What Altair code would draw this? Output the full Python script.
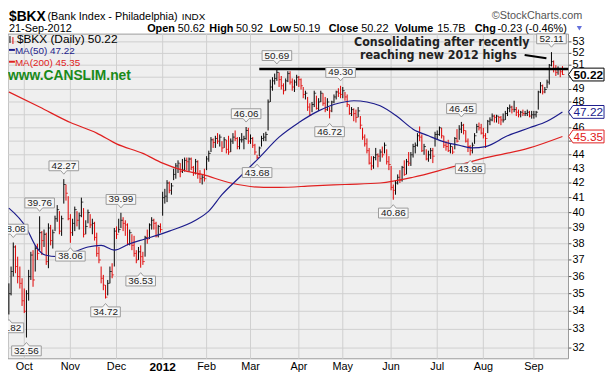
import altair as alt
import pandas as pd

FONT = "Liberation Sans, Arial, sans-serif"
NARROW = "DejaVu Sans Condensed, Liberation Sans Narrow, sans-serif"

# ---------------- data ----------------
month_idx = [7, 28, 49, 70, 90, 110, 132, 152, 174, 195, 216, 239]
month_labels = ["Oct", "Nov", "Dec", "2012", "Feb", "Mar", "Apr", "May", "Jun", "Jul", "Aug", "Sep"]
price_ticks = list(range(32, 54))
hidden_tick_labels = [45, 47, 50]  # covered by the price tags in the reference

highs = [
    35.6, 36.6, 38.08, 37.9, 37.2, 36.6, 35.9,
    35.3, 35.2, 36.4, 37.5, 37.6, 37.9, 38.0, 39.76, 38.8, 38.9, 38.7, 39.3, 39.2, 38.9, 39.8, 40.5, 40.1, 39.8, 42.27, 41.9, 41.1,
    39.9, 39.6, 40.4, 40.1, 40.0, 41.0, 40.3, 39.5, 40.2, 39.9, 39.6, 39.4, 38.7, 37.8, 36.6, 36.1, 35.5, 35.8, 36.6, 36.8, 39.0,
    39.1, 39.6, 39.99, 39.7, 39.5, 39.3, 38.9, 38.6, 38.5, 37.6, 37.8, 37.9, 37.5, 38.5, 38.9, 39.3, 39.7, 39.6, 39.4, 39.2, 39.3,
    41.4, 41.6, 42.2, 42.1, 42.0, 43.0, 43.4, 43.6, 43.4, 43.7, 43.8, 43.8, 43.8, 43.8, 43.2, 43.7, 43.6, 42.9, 42.6, 43.0,
    43.9, 44.3, 45.3, 45.2, 45.4, 45.6, 45.5, 45.0, 45.3, 45.1, 45.4, 45.2, 45.6, 45.8, 45.3, 45.3, 45.6, 45.4, 46.06, 46.0,
    45.5, 45.3, 44.8, 44.0, 44.6, 45.4, 45.6, 45.7, 48.2, 49.8, 50.0, 50.3, 50.69, 50.4, 50.1, 49.5, 49.9, 50.5, 50.5, 49.9, 49.8, 50.2,
    50.1, 49.9, 49.2, 48.9, 48.4, 47.9, 48.0, 48.9, 48.5, 48.3, 48.9, 48.7, 48.4, 48.3, 47.6, 48.1, 48.6, 48.9, 49.1, 49.30,
    49.2, 48.8, 48.6, 47.8, 47.6, 47.5, 47.4, 47.6, 46.9, 46.0, 45.5, 45.2, 44.5, 43.9, 43.9, 44.5, 44.1, 44.4, 44.6, 44.9, 44.4, 43.9,
    43.2, 41.9, 42.2, 42.6, 42.9, 43.2, 43.6, 43.7, 44.2, 44.2, 44.8, 44.9, 45.6, 46.1, 45.5, 44.8, 44.4, 44.3, 44.5, 44.5, 45.7,
    45.8, 46.1, 46.0, 45.4, 45.0, 45.1, 44.8, 44.6, 45.3, 45.9, 46.2, 46.45, 46.3, 45.8, 45.2, 44.7, 44.9, 45.6, 46.3, 46.4, 46.3,
    46.0, 45.6, 46.6, 46.8, 47.1, 47.0, 47.0, 46.9, 46.9, 47.1, 47.3, 47.6, 47.8, 47.7, 48.1, 47.6, 47.4, 47.3, 47.4, 47.3, 47.4, 47.3, 47.3,
    47.3, 47.3, 48.9, 49.6, 49.4, 49.2, 49.8, 51.1, 52.11, 51.4, 51.0, 50.9, 50.7, 50.92,
]
lows = [
    33.82, 34.9, 36.0, 36.2, 35.6, 35.3, 34.3,
    33.9, 32.56, 34.6, 35.8, 35.4, 36.3, 37.0, 37.6, 37.3, 37.8, 36.7, 36.5, 37.9, 37.7, 38.8, 39.4, 38.6, 38.5, 40.6, 40.8, 39.5,
    38.06, 38.5, 38.8, 39.1, 38.9, 39.7, 38.4, 38.6, 39.3, 39.0, 38.6, 38.2, 37.2, 36.8, 35.6, 35.2, 34.72, 34.9, 35.6, 35.9, 36.6,
    38.3, 38.7, 39.0, 38.8, 38.5, 37.9, 37.9, 37.6, 37.2, 36.8, 37.0, 36.53, 36.7, 37.2, 38.0, 38.3, 38.9, 38.9, 38.4, 38.4, 38.7,
    39.8, 40.6, 40.7, 41.3, 41.2, 42.2, 42.3, 42.7, 42.4, 42.7, 42.8, 42.9, 42.8, 42.9, 42.5, 42.6, 42.3, 42.0, 41.9, 42.1,
    42.9, 43.5, 44.2, 44.5, 44.5, 44.8, 44.6, 44.2, 44.5, 44.1, 44.0, 44.2, 44.8, 45.0, 44.4, 44.4, 44.9, 44.4, 45.1, 44.8,
    44.8, 44.5, 44.0, 43.68, 43.9, 44.6, 45.0, 45.0, 45.8, 48.0, 48.9, 49.4, 49.7, 49.2, 49.0, 48.6, 48.9, 49.6, 49.4, 48.9, 48.8, 49.3,
    49.2, 49.0, 48.3, 48.2, 47.3, 46.9, 47.2, 47.6, 47.4, 47.3, 48.0, 47.7, 47.2, 47.3, 46.72, 47.2, 47.9, 48.2, 48.4, 48.3,
    48.3, 48.1, 47.6, 47.0, 46.9, 46.5, 46.4, 46.8, 45.9, 45.1, 44.6, 44.1, 43.3, 42.9, 43.0, 43.6, 43.1, 43.5, 43.8, 44.1, 43.3, 42.9,
    41.5, 40.86, 41.2, 41.9, 42.0, 42.1, 42.5, 42.6, 43.2, 43.2, 43.8, 44.1, 44.6, 45.0, 44.2, 44.0, 43.6, 43.5, 43.7, 43.4, 44.6,
    45.1, 45.4, 45.2, 44.5, 44.3, 44.2, 44.1, 44.05, 44.4, 44.9, 45.1, 45.6, 45.5, 44.9, 44.2, 43.96, 44.1, 44.8, 45.6, 45.8, 45.5,
    45.2, 44.5, 45.6, 46.2, 46.5, 46.4, 46.4, 46.3, 46.2, 46.4, 46.6, 46.9, 47.2, 47.1, 47.2, 46.9, 46.8, 46.8, 46.9, 46.9, 46.9, 46.8, 46.7,
    46.7, 46.8, 47.4, 48.7, 48.6, 48.7, 49.1, 49.4, 50.9, 50.4, 50.1, 50.2, 50.0, 50.19,
]
closes = [
    35.0, 36.3, 37.8, 36.6, 36.0, 35.6, 34.6,
    34.0, 35.0, 36.0, 37.3, 35.8, 37.7, 37.4, 38.7, 38.2, 38.6, 36.9, 39.0, 38.2, 38.7, 39.6, 40.2, 38.8, 39.6, 41.9, 41.3, 39.6,
    38.7, 39.3, 40.2, 39.5, 39.8, 40.7, 38.6, 39.1, 40.0, 39.2, 39.3, 38.4, 37.4, 37.0, 35.9, 35.5, 34.8, 35.6, 36.3, 36.1, 38.8,
    38.6, 38.9, 39.5, 39.3, 39.2, 38.0, 38.7, 37.9, 37.4, 37.0, 37.5, 37.2, 36.9, 38.4, 38.3, 39.2, 39.5, 39.3, 38.5, 39.1, 38.9,
    41.0, 41.1, 42.0, 41.5, 41.8, 42.6, 43.2, 43.4, 42.8, 42.9, 43.6, 43.5, 43.7, 43.1, 42.7, 43.5, 42.6, 42.3, 42.4, 42.3,
    43.7, 44.1, 45.1, 44.9, 45.2, 45.0, 45.3, 44.5, 45.1, 44.4, 44.2, 45.0, 45.3, 45.2, 44.6, 45.1, 45.1, 45.2, 45.8, 45.0,
    45.2, 44.7, 44.2, 43.8, 44.5, 45.2, 45.3, 45.5, 48.0, 49.2, 49.7, 49.9, 50.4, 49.8, 49.3, 48.9, 49.7, 50.3, 49.6, 49.2, 49.6, 50.0,
    49.8, 49.3, 48.6, 48.7, 47.6, 47.0, 47.8, 48.7, 47.5, 48.0, 48.7, 47.9, 47.4, 48.0, 47.3, 48.0, 48.4, 48.8, 48.7, 48.6,
    48.9, 48.4, 47.8, 47.1, 47.4, 47.1, 46.8, 47.3, 46.2, 45.3, 44.8, 44.3, 43.4, 43.2, 43.8, 44.0, 43.9, 44.2, 44.0, 44.7, 43.5, 43.3,
    41.7, 41.5, 42.0, 42.4, 42.2, 43.1, 42.6, 43.5, 43.4, 44.0, 44.6, 44.7, 45.4, 45.3, 44.3, 44.6, 43.7, 44.0, 44.3, 43.9, 45.5,
    45.5, 46.0, 45.4, 44.7, 44.6, 44.3, 44.6, 44.2, 45.2, 45.0, 45.9, 46.2, 45.8, 45.0, 44.6, 44.3, 44.7, 45.4, 46.1, 46.0, 45.6,
    45.4, 45.2, 46.5, 46.6, 46.9, 46.8, 46.9, 46.8, 46.6, 46.6, 47.1, 47.5, 47.6, 47.4, 47.4, 47.2, 47.0, 47.2, 47.1, 47.1, 47.2, 46.9, 47.0,
    47.0, 47.2, 48.8, 49.3, 48.8, 49.0, 49.6, 51.0, 51.3, 50.7, 50.4, 50.7, 50.45, 50.22,
]

ma50_idx = [0, 8, 12, 16.5, 22, 28, 36, 42, 48, 55, 62, 73, 85, 91, 97, 105, 114, 123, 132, 141,
            150, 157, 163, 169, 176.5, 184, 191, 199, 205, 211, 217, 227, 237, 245, 252]
ma50_val = [40.3, 39.0, 37.9, 37.3, 37.2, 37.4, 37.8, 37.9, 37.6, 38.0, 38.3, 38.8, 39.5, 40.1, 41.2, 42.4, 43.8, 45.3, 46.4, 47.3,
            47.9, 48.1, 48.0, 47.7, 46.9, 45.9, 45.4, 44.9, 44.7, 44.5, 44.6, 45.4, 46.0, 46.5, 47.22]
ma200_idx = [0, 14, 28, 40, 49, 61, 70, 79, 88, 101, 116, 123, 138, 153, 169, 184, 199, 215, 237, 252]
ma200_val = [48.8, 47.6, 46.4, 45.6, 44.8, 44.1, 43.4, 42.9, 42.6, 42.0, 41.7, 41.7, 41.8, 41.9, 42.0, 42.4, 43.0, 43.7, 44.5, 45.35]

peak_idx = [0, 2, 8, 14, 25, 28, 44, 51, 60, 108, 113, 122, 146, 151, 175, 206, 210, 247]
peak_val = [33.82, 38.08, 32.56, 39.76, 42.27, 38.06, 34.72, 39.99, 36.53, 46.06, 43.68, 50.69, 46.72, 49.30, 40.86, 46.45, 43.96, 52.11]
peak_side = ["lo", "hi", "lo", "hi", "hi", "lo", "lo", "hi", "lo", "hi", "lo", "hi", "lo", "hi", "lo", "hi", "lo", "hi"]

tag_vals = [50.22, 47.22, 45.35]
tag_text = ["50.22", "47.22", "45.35"]
tag_colors = ["#000000", "#1c1c8c", "#e02020"]

resist_level = 50.69
resist_from, resist_to = 114, 254.7
arrow_x = [234.8, 244.7]
arrow_y = [51.86, 51.58]
note_lines = ["Consolidating after recently", "reaching new 2012 highs"]
note_x = [237.0, 231.2]
note_y = [52.68, 51.54]

# ---------------- layout ----------------
W, H = 568, 329
PX0, PY0 = 8, 32  # page position of plot origin
xs = alt.Scale(domain=[-0.4, 254.76], nice=False, zero=False)
ys = alt.Scale(type="log", domain=[31.44, 53.68], nice=False, zero=False)


def px(x):
    return x - PX0


def py(y):
    return y - PY0


one = pd.DataFrame({"a": [0]})


def txt(s, x, y, size=11, weight="normal", color="#000000", align="left", font=FONT):
    return alt.Chart(pd.DataFrame({"t": [s]})).mark_text(
        align=align, baseline="alphabetic", fontSize=size, fontWeight=weight, color=color, font=font
    ).encode(x=alt.value(px(x)), y=alt.value(py(y)), text="t:N")


def prule(x1, x2, y1, y2, color, w=1):
    return alt.Chart(one).mark_rule(color=color, strokeWidth=w).encode(
        x=alt.value(px(x1)), x2=alt.value(px(x2)), y=alt.value(py(y1)), y2=alt.value(py(y2))
    )


XI = alt.X("i:Q", scale=xs, axis=None)
YV = alt.Y("v:Q", scale=ys, axis=None)

# plot background, grid, axes (drawn as marks)
plot_bg = alt.Chart(one).mark_rect(fill="#efefef", stroke="#9a9a9a", strokeWidth=1).encode(
    x=alt.value(0), x2=alt.value(W), y=alt.value(0), y2=alt.value(H)
)
hgrid = alt.Chart(pd.DataFrame({"v": price_ticks})).mark_rule(color="#cfcfcf", strokeWidth=1).encode(
    y=YV, x=alt.value(0), x2=alt.value(W)
)
vgrid = alt.Chart(pd.DataFrame({"i": month_idx})).mark_rule(color="#cfcfcf", strokeWidth=1).encode(
    x=XI, y=alt.value(0), y2=alt.value(H)
)
ytick_marks = alt.Chart(pd.DataFrame({"v": price_ticks})).mark_rule(color="#555555", strokeWidth=1).encode(
    y=YV, x=alt.value(W), x2=alt.value(W + 3)
)
shown = [v for v in price_ticks if v not in hidden_tick_labels]
ylabels = alt.Chart(pd.DataFrame({"v": shown, "t": [str(v) for v in shown]})).mark_text(
    align="left", baseline="middle", fontSize=11, font=FONT, color="#000000"
).encode(x=alt.value(W + 4), y=YV, text="t:N")
mdf = pd.DataFrame({"i": month_idx, "t": month_labels})
xlabels = alt.Chart(mdf[mdf["t"] != "2012"]).mark_text(
    align="center", baseline="middle", fontSize=11, font=FONT, color="#000000"
).encode(x=XI, y=alt.value(H + 8), text="t:N")
xlabel_year = alt.Chart(mdf[mdf["t"] == "2012"]).mark_text(
    align="center", baseline="middle", fontSize=12, fontWeight="bold", font=FONT, color="#000000"
).encode(x=XI, y=alt.value(H + 8), text="t:N")

# price bars
n = len(highs)
dirs = ["up" if i == 0 or closes[i] >= closes[i - 1] else "down" for i in range(n)]
bars = pd.DataFrame({"i": list(range(n)), "high": highs, "low": lows, "close": closes, "dir": dirs})
color_dir = alt.Color("dir:N", scale=alt.Scale(domain=["up", "down"], range=["#000000", "#e00000"]), legend=None)

bar_rules = alt.Chart(bars).mark_rule(strokeWidth=1).encode(
    x=XI, y=alt.Y("low:Q", scale=ys, axis=None), y2="high:Q", color=color_dir
)
bar_ticks = alt.Chart(bars).mark_tick(orient="horizontal", size=2, thickness=1, xOffset=1).encode(
    x=XI, y=alt.Y("close:Q", scale=ys, axis=None), color=color_dir
)

ma50 = alt.Chart(pd.DataFrame({"i": ma50_idx, "v": ma50_val})).mark_line(
    color="#1c1c8c", strokeWidth=1.2, interpolate="monotone"
).encode(x=XI, y=YV)
ma200 = alt.Chart(pd.DataFrame({"i": ma200_idx, "v": ma200_val})).mark_line(
    color="#e02020", strokeWidth=1.2, interpolate="monotone"
).encode(x=XI, y=YV)

resist = alt.Chart(pd.DataFrame({"i": [resist_from], "b": [resist_to], "v": [resist_level]})).mark_rule(
    color="#000000", strokeWidth=2.5
).encode(x=XI, x2="b:Q", y=YV)

arrow = alt.Chart(pd.DataFrame({"i": [arrow_x[0]], "b": [arrow_x[1]], "v": [arrow_y[0]], "d": [arrow_y[1]]})).mark_rule(
    color="#000000", strokeWidth=2
).encode(x=XI, x2="b:Q", y=YV, y2="d:Q")

notes = alt.Chart(pd.DataFrame({"i": note_x, "v": note_y, "t": note_lines})).mark_text(
    align="right", baseline="alphabetic", fontSize=12.5, fontWeight="bold", font=NARROW, color="#222222"
).encode(x=XI, y=YV, text="t:N")

peaks = pd.DataFrame({"i": peak_idx, "v": peak_val, "t": [f"{v:.2f}" for v in peak_val], "s": peak_side})
HI_PATH = "M-1.5,-1.85 L1.5,-1.85 L1.5,-0.85 L0.3,-0.85 L0,-0.5 L-0.3,-0.85 L-1.5,-0.85 Z"
LO_PATH = "M-1.5,1.85 L1.5,1.85 L1.5,0.85 L0.3,0.85 L0,0.5 L-0.3,0.85 L-1.5,0.85 Z"


def peak_layer(side, path, dy):
    d = peaks[peaks["s"] == side]
    box = alt.Chart(d).mark_point(
        shape=path, size=400, filled=True, fill="#f7f7f7", stroke="#9a9a9a", strokeWidth=1, opacity=1
    ).encode(x=XI, y=YV)
    lab = alt.Chart(d).mark_text(
        dy=dy, baseline="middle", align="center", fontSize=10, font=FONT, color="#222222"
    ).encode(x=XI, y=YV, text="t:N")
    return box + lab


TAG_PATH = "M0,0 L0.45,-0.65 L3.6,-0.65 L3.6,0.65 L0.45,0.65 Z"
tags = pd.DataFrame({"v": tag_vals, "t": tag_text, "c": tag_colors})
tag_boxes = alt.Chart(tags).mark_point(
    shape=TAG_PATH, size=400, filled=True, fill="#ffffff", strokeWidth=1, opacity=1
).encode(x=alt.value(W), y=YV, stroke=alt.Stroke("c:N", scale=None))
tag_main = alt.Chart(tags.iloc[:1]).mark_text(
    align="center", baseline="middle", fontSize=12, fontWeight="bold", font=FONT, dy=0.5
).encode(x=alt.value(W + 20), y=YV, text="t:N", color=alt.Color("c:N", scale=None))
tag_ma = alt.Chart(tags.iloc[1:]).mark_text(
    align="center", baseline="middle", fontSize=12, font=FONT, dy=0.5
).encode(x=alt.value(W + 20), y=YV, text="t:N", color=alt.Color("c:N", scale=None))

# header and legend
header = [
    txt("$BKX", 9, 19, size=14, weight="bold"),
    txt("(Bank Index - Philadelphia)", 48, 18, size=11),
    txt("INDX", 184, 18, size=10),
    txt("\u00a9StockCharts.com", 590, 17, size=11, color="#555555", align="right"),
    txt("21-Sep-2012", 9, 30, size=11),
    txt("Open", 149, 30, weight="bold"), txt("50.62", 180, 30),
    txt("High", 212, 30, weight="bold"), txt("50.92", 239, 30),
    txt("Low", 273, 30, weight="bold"), txt("50.19", 297, 30),
    txt("Close", 333, 30, weight="bold"), txt("50.22", 366, 30),
    txt("Volume", 400, 30, weight="bold"), txt("15.7B", 443, 30),
    txt("Chg", 481, 30, weight="bold"), txt("-0.23 (-0.46%)", 504, 30),
    alt.Chart(one).mark_point(shape="triangle-down", size=28, filled=True, color="#2233cc").encode(
        x=alt.value(px(587)), y=alt.value(py(26))
    ),
    prule(10, 10, 34, 41, "#000000", 1), prule(13, 13, 35, 42, "#e00000", 1),
    txt("$BKX (Daily) 50.22", 17, 41, size=12),
    prule(9, 15, 48, 48, "#1c1c8c", 2), txt("MA(50) 47.22", 15, 52, size=10, color="#1c1c8c"),
    prule(9, 15, 60, 60, "#e02020", 2), txt("MA(200) 45.35", 15, 64, size=10, color="#e02020"),
    txt("www.CANSLIM.net", 8, 79, size=14, weight="bold", color="#1a8a1a"),
]

chart = alt.layer(
    plot_bg, hgrid, vgrid, ytick_marks, ylabels, xlabels, xlabel_year,
    bar_rules, bar_ticks, ma200, ma50, resist, arrow, notes,
    peak_layer("hi", HI_PATH, -13.5), peak_layer("lo", LO_PATH, 13.5),
    tag_boxes, tag_main, tag_ma, *header,
).properties(
    width=W, height=H,
    padding={"left": 0, "top": 24, "right": 38, "bottom": 15},
    autosize=alt.AutoSizeParams(type="none"),
    background="#ffffff",
).configure_view(strokeWidth=0)

chart.save("out.html", embed_options={"renderer": "svg", "actions": False})
